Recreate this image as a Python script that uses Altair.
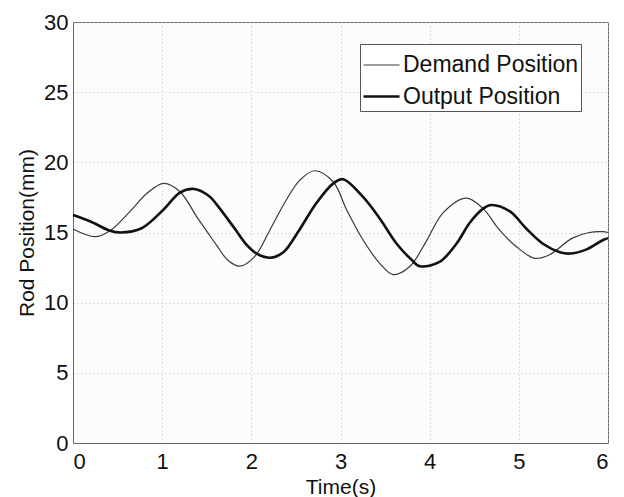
import altair as alt
import pandas as pd

demand_t = [0.0, 0.25, 0.415, 0.64, 0.83, 1.02, 1.2, 1.39, 1.5, 1.61, 1.74, 1.87, 2.04, 2.21, 2.39, 2.54, 2.71, 2.92, 3.07, 3.25, 3.44, 3.59, 3.78, 3.96, 4.15, 4.41, 4.6, 4.78, 4.97, 5.18, 5.34, 5.6, 5.79, 5.94, 6.0]
demand_y = [15.25, 14.7, 15.13, 16.5, 17.8, 18.5, 17.9, 16.1, 15.1, 14.1, 13.0, 12.6, 13.3, 15.2, 17.3, 18.7, 19.4, 18.6, 16.6, 14.5, 12.8, 12.0, 12.6, 14.35, 16.4, 17.45, 16.7, 15.2, 14.0, 13.16, 13.4, 14.6, 15.0, 15.06, 15.0]

output_t = [0.0, 0.19, 0.415, 0.53, 0.77, 1.01, 1.2, 1.36, 1.535, 1.61, 1.8, 1.95, 2.06, 2.21, 2.36, 2.54, 2.73, 2.92, 3.03, 3.25, 3.44, 3.63, 3.79, 3.89, 4.11, 4.3, 4.45, 4.6, 4.69, 4.9, 5.08, 5.27, 5.46, 5.57, 5.76, 5.94, 6.0]
output_y = [16.25, 15.8, 15.13, 15.0, 15.3, 16.6, 17.85, 18.1, 17.55, 17.0, 15.4, 14.1, 13.5, 13.2, 13.6, 15.2, 17.1, 18.5, 18.8, 17.55, 16.0, 14.2, 13.1, 12.6, 12.9, 14.2, 15.7, 16.7, 16.96, 16.5, 15.3, 14.2, 13.6, 13.5, 13.8, 14.45, 14.6]

series_names = ["Demand Position", "Output Position"]
x_ticks = [0, 1, 2, 3, 4, 5, 6]
y_ticks = [0, 5, 10, 15, 20, 25, 30]

df = pd.concat([
    pd.DataFrame({"t": demand_t, "y": demand_y, "series": series_names[0]}),
    pd.DataFrame({"t": output_t, "y": output_y, "series": series_names[1]}),
])

FONT = "Liberation Sans"

chart = alt.Chart(df).mark_line(interpolate="catmull-rom").encode(
    x=alt.X("t:Q", scale=alt.Scale(domain=[0, 6], nice=False),
            axis=alt.Axis(values=x_ticks, title="Time(s)", format="d")),
    y=alt.Y("y:Q", scale=alt.Scale(domain=[0, 30], nice=False),
            axis=alt.Axis(values=y_ticks, title="Rod Position(mm)", format="d")),
    color=alt.Color("series:N", scale=alt.Scale(domain=series_names, range=["#3a3a3a", "#111111"]),
                    legend=alt.Legend(title=None)),
    strokeWidth=alt.StrokeWidth("series:N", scale=alt.Scale(domain=series_names, range=[1.2, 2.6]),
                                legend=alt.Legend(title=None)),
).properties(
    width=535, height=421,
    autosize=alt.AutoSizeParams(type="none"),
    padding={"left": 65, "top": 14, "right": 8, "bottom": 54},
    background="#ffffff",
).configure_view(
    stroke="#666666", strokeWidth=1, fill="#fcfcfc"
).configure_axis(
    labelFont=FONT, titleFont=FONT, labelFontSize=22, titleFontSize=21,
    labelColor="#111111", titleColor="#111111", titleFontWeight="normal",
    domainColor="#666666", ticks=False, grid=True, gridColor="#c0c0c0",
    gridDash=[1, 3], gridWidth=1,
).configure_axisX(
    labelPadding=8, titlePadding=4,
).configure_axisY(
    labelPadding=5, titlePadding=6,
).configure_legend(
    orient="none", legendX=287, legendY=22,
    labelFont=FONT, labelFontSize=23, labelColor="#111111", labelLimit=0,
    strokeColor="#555555", fillColor="#ffffff", padding=2,
    symbolType="stroke", symbolSize=1300, rowPadding=-6, labelOffset=2,
    cornerRadius=0,
)

chart.save("out.html", embed_options={"renderer": "svg", "actions": False})
